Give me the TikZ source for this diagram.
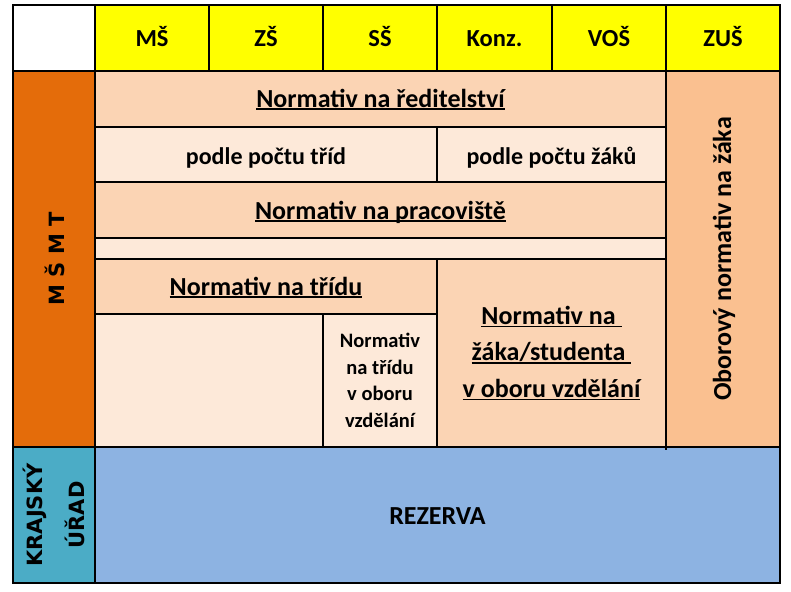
\documentclass[tikz,border=0pt]{standalone}
\usepackage{fontspec}
\setmainfont{Carlito}
\newfontfamily\wide{DejaVu Sans}
\definecolor{hdr}{HTML}{FFFF00}
\definecolor{msmt}{HTML}{E46C0A}
\definecolor{kraj}{HTML}{4BACC6}
\definecolor{rez}{HTML}{8DB3E2}
\definecolor{peach}{HTML}{FBD4B4}
\definecolor{light}{HTML}{FDE9D9}
\definecolor{obor}{HTML}{FAC090}
\newcommand\myul[1]{\setbox0\hbox{#1}\rlap{\rule[-2.8pt]{\wd0}{1.4pt}}\box0}
\tikzset{
  cellbox/.style={draw=black, line width=1.2pt, inner sep=0pt, outer sep=0pt},
  txt/.style={inner sep=0pt, font=\bfseries, align=center},
  thickline/.style={draw=black, line width=2pt},
  hfont/.style={font=\bfseries\fontsize{24.5}{28}\selectfont},
  bigfont/.style={font=\bfseries\fontsize{26}{30}\selectfont},
  midfont/.style={font=\bfseries\fontsize{24}{28}\selectfont},
  vfont/.style={font=\wide\bfseries\fontsize{21}{25}\selectfont},
}
\newcommand\mycell[6]{%
  \node[cellbox, fill=#6, minimum width={(#4-#2)*1pt}, minimum height={(#5-#3)*1pt}]
    (#1) at ({(#2+#4)/2},{(#3+#5)/2}) {};}
\begin{document}
\begin{tikzpicture}[x=1pt,y=-1pt]
\useasboundingbox (0,0) rectangle (791,591);
\fill[white] (0,0) rectangle (791,591);
% header
\mycell{corner}{13}{5}{95}{71}{white}
\mycell{hms}{95}{5}{209}{71}{hdr}
\mycell{hzs}{209}{5}{323}{71}{hdr}
\mycell{hss}{323}{5}{437}{71}{hdr}
\mycell{hkonz}{437}{5}{552}{71}{hdr}
\mycell{hvos}{552}{5}{666}{71}{hdr}
\mycell{hzus}{666}{5}{780}{71}{hdr}
% side columns
\mycell{msmt}{13}{71}{95}{447}{msmt}
\mycell{kraj}{13}{447}{95}{583}{kraj}
\mycell{obor}{666}{71}{780}{447}{obor}
% rows
\mycell{red}{95}{71}{666}{127}{peach}
\mycell{trid}{95}{127}{437}{182}{light}
\mycell{zaku}{437}{127}{666}{182}{light}
\mycell{prac}{95}{182}{666}{238}{peach}
\mycell{thin}{95}{238}{666}{259}{light}
\mycell{tridu}{95}{259}{437}{314}{peach}
\mycell{empty}{95}{314}{323}{447}{light}
\mycell{obtr}{323}{314}{437}{447}{light}
\mycell{zaka}{437}{259}{666}{447}{peach}
\mycell{rezerva}{95}{447}{780}{583}{rez}
% thicker lines
\draw[thickline] (corner.north west) rectangle (rezerva.south east);
\draw[thickline] (trid.south west) -- (zaku.south east);
\draw[thickline] (tridu.north west) -- (zaka.north east);
\draw[thickline] (msmt.north east) -- (kraj.south east);
\draw[thickline] (msmt.north west) -- (obor.north east);
\draw[thickline] (kraj.north west) -- (rezerva.north east);
\draw[line width=1.2pt] (obor.south west) -- ++(0,3);
% texts (single lines placed on their baselines)
\begin{scope}[every node/.style={txt, hfont, anchor=base}]
\node (tms) at (hms.center |- 0,47) {MŠ};
\node (tzs) at (hzs.center |- 0,47) {ZŠ};
\node (tss) at (hss.center |- 0,47) {SŠ};
\node (tkonz) at (hkonz.center |- 0,47) {Konz.};
\node (tvos) at (hvos.center |- 0,47) {VOŠ};
\node (tzus) at (hzus.center |- 0,47) {ZUŠ};
\end{scope}
\node[txt, bigfont, anchor=base] (tred) at (red.center |- 0,107) {\myul{Normativ na ředitelství}};
\node[txt, midfont, anchor=base] (ttrid) at (trid.center |- 0,164) {podle počtu tříd};
\node[txt, midfont, anchor=base] (tzaku) at (zaku.center |- 0,164) {podle počtu žáků};
\node[txt, bigfont, anchor=base] (tprac) at (prac.center |- 0,219) {\myul{Normativ na pracoviště}};
\node[txt, bigfont, anchor=base] (ttridu) at (tridu.center |- 0,295) {\myul{Normativ na třídu}};
\node[txt, bigfont, anchor=base] (trez) at (rezerva.center |- 0,524) {REZERVA};
\node[txt, font=\bfseries\fontsize{20.5}{26.7}\selectfont] (tobtr) at (obtr.center) {Normativ\\na třídu\\v oboru\\vzdělání};
\node[txt, font=\bfseries\fontsize{26}{36.5}\selectfont] (tzaka) at (zaka.center) {\myul{Normativ na\ }\\\myul{žáka/studenta\ }\\\myul{v oboru vzdělání}};
\node[txt, bigfont, rotate=90] (tobor) at ([xshift=1pt]obor.center) {Oborový normativ na žáka};
\node[txt, vfont, rotate=90] (tmsmt) at ([xshift=1pt]msmt.center) {M Š M T};
\node[txt, vfont, rotate=90] (tkraj) at ([xshift=-19pt]kraj.center) {KRAJSKÝ};
\node[txt, vfont, rotate=90] (turad) at ([xshift=21pt]kraj.center) {ÚŘAD};
\end{tikzpicture}
\end{document}
